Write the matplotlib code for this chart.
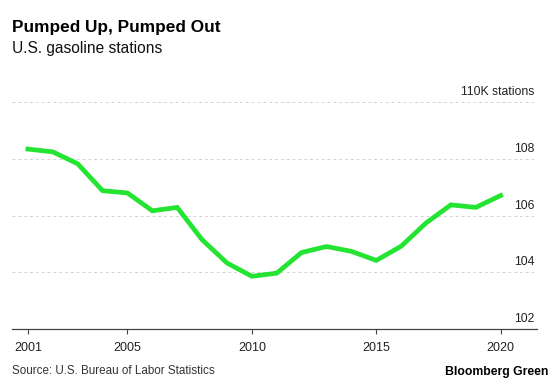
import matplotlib
matplotlib.use("Agg")
import matplotlib.pyplot as plt

plt.rcParams['font.family'] = ['Liberation Sans', 'DejaVu Sans']

# data (thousands of stations)
years = list(range(2001, 2021))
stations = [108.35, 108.25, 107.83, 106.88, 106.8, 106.17, 106.29, 105.15, 104.33, 103.86,
            103.97, 104.7, 104.91, 104.74, 104.42, 104.92, 105.74, 106.38, 106.29, 106.71]
year_ticks = [2001, 2005, 2010, 2015, 2020]
y_ticks = [102, 104, 106, 108, 110]
y_labels = ["102", "104", "106", "108", "110K stations"]

fig = plt.figure(figsize=(5.6, 3.87), dpi=100)
ax = fig.add_axes([0.0214, 0.1499, 0.9375, 0.5858])

ax.plot(years, stations, color="#24e432", lw=3.4, solid_joinstyle="miter", zorder=3)

ax.set_xlim(2000.36, 2021.46)
ax.set_ylim(102, 110)

# dashed gridlines + labels sitting above them on the right
for v, lab in zip(y_ticks, y_labels):
    if v > 102:
        ax.axhline(v, color="#d4d4d4", lw=0.7, dashes=(3, 3), zorder=1)
    ax.annotate(lab, xy=(1.0, v), xycoords=("axes fraction", "data"),
                xytext=(-2, 5), textcoords="offset points",
                ha="right", va="baseline", fontsize=8.8, color="#222222")

ax.set_yticks([])
ax.set_xticks(year_ticks)
ax.set_xticklabels([str(y) for y in year_ticks])
ax.tick_params(axis="x", direction="out", length=3.5, width=0.8, color="#444444",
               pad=6, labelsize=9, labelcolor="#222222")
for s in ["top", "left", "right"]:
    ax.spines[s].set_visible(False)
ax.spines["bottom"].set_color("#444444")
ax.spines["bottom"].set_linewidth(0.9)

fig.text(12 / 560, 1 - 31.7 / 387, "Pumped Up, Pumped Out", fontsize=12.4,
         fontweight="bold", ha="left", va="baseline", color="#000000")
fig.text(12 / 560, 1 - 53 / 387, "U.S. gasoline stations", fontsize=11.2,
         ha="left", va="baseline", color="#111111")
fig.text(12 / 560, 1 - 374 / 387, "Source: U.S. Bureau of Labor Statistics", fontsize=8.4,
         ha="left", va="baseline", color="#333333")
fig.text(548 / 560, 1 - 375 / 387, "Bloomberg Green", fontsize=8.8, fontweight="bold",
         ha="right", va="baseline", color="#000000")

fig.savefig("out.png", dpi=100)
